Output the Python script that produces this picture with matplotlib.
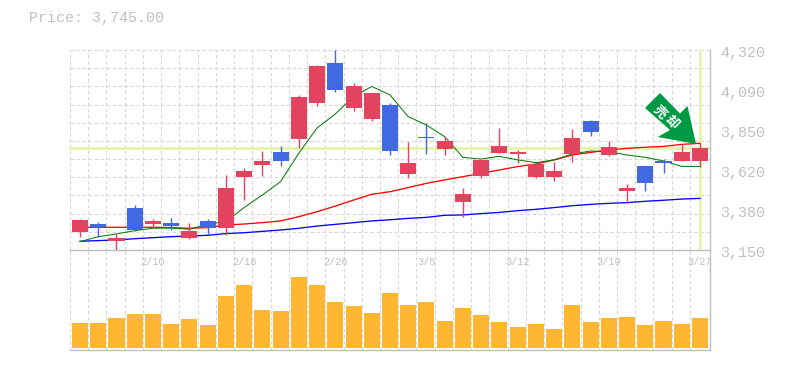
#!/usr/bin/python
# -*- coding: utf-8 -*-
import matplotlib
matplotlib.use('Agg')
from matplotlib import pyplot as plt
from matplotlib.patches import Polygon
from matplotlib.transforms import ScaledTranslation
import numpy as np

# Data
opens = [3255, 3302, 3203, 3396, 3302, 3308, 3220, 3320, 3279, 3577, 3647, 3723, 3799, 4010, 4244, 3981, 3916, 3998,
         3595, 3811, 3741, 3431, 3583, 3717, 3712, 3577, 3577, 3712, 3905, 3706, 3495, 3641, 3671, 3671, 3671]
closes = [3326, 3285, 3220, 3267, 3320, 3290, 3261, 3279, 3513, 3612, 3671, 3671, 4045, 4226, 4086, 4109, 4068, 3729,
          3659, 3805, 3788, 3478, 3677, 3758, 3723, 3653, 3612, 3805, 3840, 3753, 3513, 3542, 3657, 3723, 3745]
highs = [3331, 3314, 3244, 3413, 3331, 3337, 3308, 3331, 3589, 3630, 3729, 3758, 4057, 4232, 4320, 4127, 4068, 4010,
         3782, 3893, 3817, 3513, 3677, 3864, 3735, 3665, 3665, 3858, 3911, 3788, 3536, 3641, 3682, 3770, 3776]
lows = [3226, 3226, 3150, 3261, 3279, 3267, 3214, 3244, 3238, 3442, 3583, 3641, 3747, 3992, 4074, 3963, 3905, 3706,
        3571, 3712, 3706, 3343, 3571, 3717, 3659, 3571, 3554, 3665, 3817, 3700, 3425, 3495, 3600, 3671, 3636]
ma_short = [3199, 3228, 3244, 3263, 3277, 3279, 3271, 3302, 3316, 3398, 3472, 3550, 3716, 3864, 3946, 4047, 4107, 4057,
            3930, 3881, 3813, 3692, 3682, 3698, 3677, 3661, 3677, 3712, 3729, 3725, 3706, 3692, 3671, 3639, 3639]
ma_mid = [3283, 3283, 3283, 3283, 3283, 3281, 3277, 3281, 3296, 3302, 3310, 3320, 3345, 3374, 3407, 3442, 3476, 3491,
          3515, 3540, 3560, 3579, 3599, 3618, 3638, 3653, 3677, 3706, 3721, 3735, 3745, 3751, 3756, 3768, 3774]
ma_long = [3201, 3205, 3209, 3216, 3222, 3228, 3232, 3236, 3246, 3251, 3259, 3267, 3277, 3290, 3300, 3310, 3320, 3327,
           3335, 3341, 3353, 3355, 3363, 3370, 3380, 3388, 3398, 3409, 3417, 3423, 3427, 3435, 3441, 3448, 3452]
volumes = [75, 75, 90, 102, 102, 72, 87, 69, 156, 189, 114, 111, 213, 189, 138, 126, 105, 165,
           129, 138, 81, 120, 99, 78, 63, 72, 57, 129, 78, 90, 93, 69, 81, 72, 90]
date_idx = [4, 9, 14, 19, 24, 29, 34]
date_labels = ['2/10', '2/18', '2/26', '3/5', '3/12', '3/19', '3/27']
price_ticks = [4320, 4086, 3852, 3618, 3384, 3150]
price_labels = ['4,320', '4,090', '3,850', '3,620', '3,380', '3,150']
last_price = 3745

W, H = 785, 370
PX = 0.72  # 1 pixel in points at dpi 100
RED = '#e2435f'
BLUE = '#4169e1'
GRAY = '#c0c0c0'
GRID = '#d9d9d9'
MARK = '#e6f5ae'

plt.rcParams['font.family'] = ['Liberation Mono', 'DejaVu Sans Mono']

fig = plt.figure(figsize=(W / 100, H / 100), dpi=100)


def axesAt(left, top, right, bottom):
    return fig.add_axes([left / W, 1 - bottom / H, (right - left) / W, (bottom - top) / H])


axVol = axesAt(70, 250, 710, 350)
ax = axesAt(70, 50, 710, 250)

x = np.arange(len(opens))
xlim = (-0.55, 34.55)
gridX = x - 0.55

# Price panel
for a in (ax, axVol):
    a.set_xlim(*xlim)
    a.patch.set_alpha(0)
    a.set_xticks(gridX, minor=True)
    a.grid(which='minor', axis='x', color=GRID, lw=PX * 1.2, linestyle=(0, (3, 2)), zorder=0, clip_on=False)
    a.set_axisbelow(True)
    for s in ('top', 'left'):
        a.spines[s].set_visible(False)
    a.spines['right'].set_color(GRAY)
    a.spines['bottom'].set_color(GRAY)
    a.spines['right'].set_linewidth(PX * 1.4)
    a.spines['bottom'].set_linewidth(PX * 1.4)
    a.tick_params(which='both', length=0)

ax.set_ylim(3150, 4320)
ax.set_yticks(np.linspace(3150, 4320, 12))
ax.set_yticklabels([])
ax.grid(which='major', axis='y', color=GRID, lw=PX * 1.2, linestyle=(0, (3, 2)), zorder=0, clip_on=False)
ax.set_xticks(date_idx)
ax.set_xticklabels(date_labels, fontsize=7.4, color=GRAY)
ax.tick_params(axis='x', which='major', pad=5)

# Right hand price labels sit a little below their grid line
offset = ScaledTranslation(10 / 100, -3 / 100, fig.dpi_scale_trans)
for val, lab in zip(price_ticks, price_labels):
    ax.text(1, val, lab, transform=ax.get_yaxis_transform() + offset, fontsize=10.8, color=GRAY,
            ha='left', va='center', clip_on=False)

# Last price marker
ax.axhline(last_price, color=MARK, lw=PX * 3, zorder=1)
ax.axvline(x[-1], ymin=0, ymax=1, color=MARK, lw=PX * 3, zorder=1)

# Moving averages
ax.plot(x, ma_long, color='#0000ff', lw=PX * 1.3, zorder=2)
ax.plot(x, ma_mid, color='#ff0000', lw=PX * 1.3, zorder=2)
ax.plot(x, ma_short, color='#007a00', lw=PX * 1.0, zorder=2)

# Candles
colors = [RED if c >= o else BLUE for o, c in zip(opens, closes)]
ax.vlines(x, lows, highs, colors=colors, lw=PX * 1.4, zorder=3)
bottoms = np.minimum(opens, closes)
heights = np.abs(np.array(closes) - np.array(opens))
ax.bar(x, heights, bottom=bottoms, width=0.88, color=colors, linewidth=0, zorder=3)

# Volume panel
axVol.set_ylim(-6, 294)
axVol.set_yticks([])
axVol.set_xticks([])
axVol.bar(x, volumes, width=0.88, color='#ffb733', linewidth=0, zorder=3)

# Title
fig.text(29 / W, 1 - 18 / H, 'Price: %s.00' % '3,745', fontsize=10.8, color=GRAY, ha='left', va='center')


# Signal arrow, placed in pixels
def px(p):
    return (p[0] / W, 1 - p[1] / H)


arrow = [(660, 93), (645, 108), (670, 130), (657.7, 137), (696, 144), (687.5, 106), (680, 113.5)]
fig.add_artist(Polygon([px(p) for p in arrow], closed=True, transform=fig.transFigure,
                       facecolor='#009944', edgecolor='none', zorder=6))
for (gx, gy), ch in zip([(660, 111.7), (671.7, 121.7)], '売却'):
    fig.text(gx / W, 1 - gy / H, ch, family=['Noto Sans CJK JP', 'DejaVu Sans'], fontsize=9.5, fontweight='bold',
             color='white', rotation=-45, rotation_mode='anchor', ha='center', va='center', zorder=7)

fig.savefig('out.png', dpi=100)
